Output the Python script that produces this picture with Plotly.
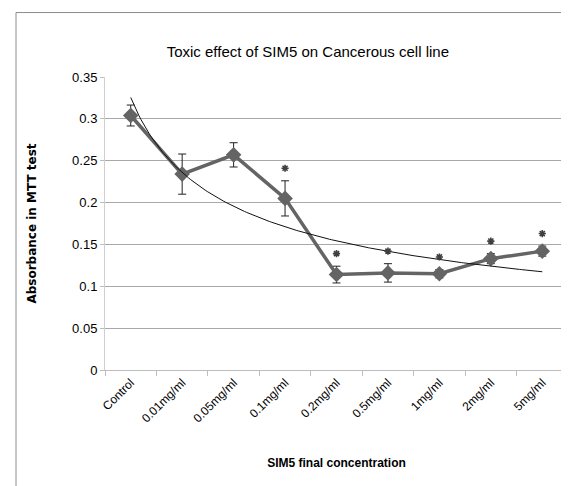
"""Toxic effect of SIM5 on a cancerous cell line (MTT absorbance)."""

import numpy as np
import plotly.graph_objects as go

# data
concentrations = ["Control", "0.01mg/ml", "0.05mg/ml", "0.1mg/ml", "0.2mg/ml",
                  "0.5mg/ml", "1mg/ml", "2mg/ml", "5mg/ml"]
absorbance = [0.304, 0.234, 0.257, 0.205, 0.114, 0.116, 0.115, 0.133, 0.142]
abs_error = [0.0125, 0.024, 0.0145, 0.021, 0.010, 0.011, 0.005, 0.006, 0.006]
significant = [False, False, False, True, True, True, True, True, True]

LINE_GREY = '#646464'
GRID_GREY = '#a8a8a8'
FONT = "Liberation Sans, Arial"
STAR_GAP = 0.015  # space between error bar cap and the star

x_idx = np.arange(1, len(concentrations) + 1)

# Excel-style power trendline fitted to the means
slope, intercept = np.polyfit(np.log(x_idx), np.log(absorbance), 1)
x_fit = np.linspace(1, len(concentrations), 200)
y_fit = np.exp(intercept) * x_fit ** slope

fig = go.Figure()

fig.add_trace(go.Scatter(
    x=x_idx,
    y=absorbance,
    mode='lines+markers',
    line=dict(color=LINE_GREY, width=3.5),
    marker=dict(symbol='diamond', size=12, color=LINE_GREY),
    error_y=dict(type='data', array=abs_error, color='#222222',
                 thickness=1, width=4),
    showlegend=False,
))

fig.add_trace(go.Scatter(
    x=x_fit,
    y=y_fit,
    mode='lines',
    line=dict(color='#111111', width=1),
    showlegend=False,
))

# significance stars above the error bars
star_x = [x for x, s in zip(x_idx, significant) if s]
star_y = [a + e + STAR_GAP for a, e, s in zip(absorbance, abs_error, significant) if s]
fig.add_trace(go.Scatter(
    x=star_x,
    y=star_y,
    mode='markers',
    marker=dict(symbol='asterisk-open', size=6, color='#404040',
                line=dict(color='#404040', width=1.6)),
    showlegend=False,
))

fig.update_layout(
    width=569,
    height=486,
    paper_bgcolor='white',
    plot_bgcolor='white',
    margin=dict(l=97, r=9, t=69, b=124),
    title=dict(
        text="Toxic effect of SIM5 on Cancerous cell line",
        x=0.527, xanchor='center',
        y=1 - 44 / 486, yanchor='middle',
        font=dict(family=FONT, size=15, color='black'),
    ),
    font=dict(family=FONT, color='black'),
    xaxis=dict(
        range=[0.5, len(concentrations) + 0.5],
        tickvals=x_idx,
        ticktext=concentrations,
        tickangle=-45,
        ticks='',
        tickfont=dict(size=12),
        showgrid=False,
        zeroline=False,
        showline=True,
        linecolor='#bdbdbd',
        minor=dict(tickvals=np.arange(0.5, len(concentrations) + 1, 1.0),
                   ticks='outside', ticklen=5, tickcolor='#bdbdbd',
                   showgrid=False),
        title=dict(text="<b>SIM5 final concentration</b>",
                   font=dict(size=12), standoff=34),
    ),
    yaxis=dict(
        range=[0, 0.35],
        dtick=0.05,
        ticks='outside',
        ticklen=4,
        tickcolor='#bdbdbd',
        tickfont=dict(size=13),
        showgrid=True,
        gridcolor=GRID_GREY,
        zeroline=False,
        showline=True,
        linecolor='#d0d0d0',
        title=dict(text="<b>Absorbance in MTT test</b>",
                   font=dict(family="DejaVu Sans", size=12), standoff=32),
    ),
    shapes=[
        # chart area border (left and top edges visible)
        dict(type='line', xref='paper', yref='paper',
             x0=(8 - 97) / 463, x1=(8 - 97) / 463, y0=1.22, y1=-0.5,
             line=dict(color='#8c8c8c', width=1)),
        dict(type='line', xref='paper', yref='paper',
             x0=(8 - 97) / 463, x1=1.03, y0=1.22, y1=1.22,
             line=dict(color='#8c8c8c', width=1)),
    ],
)

fig.write_html("out.html")
